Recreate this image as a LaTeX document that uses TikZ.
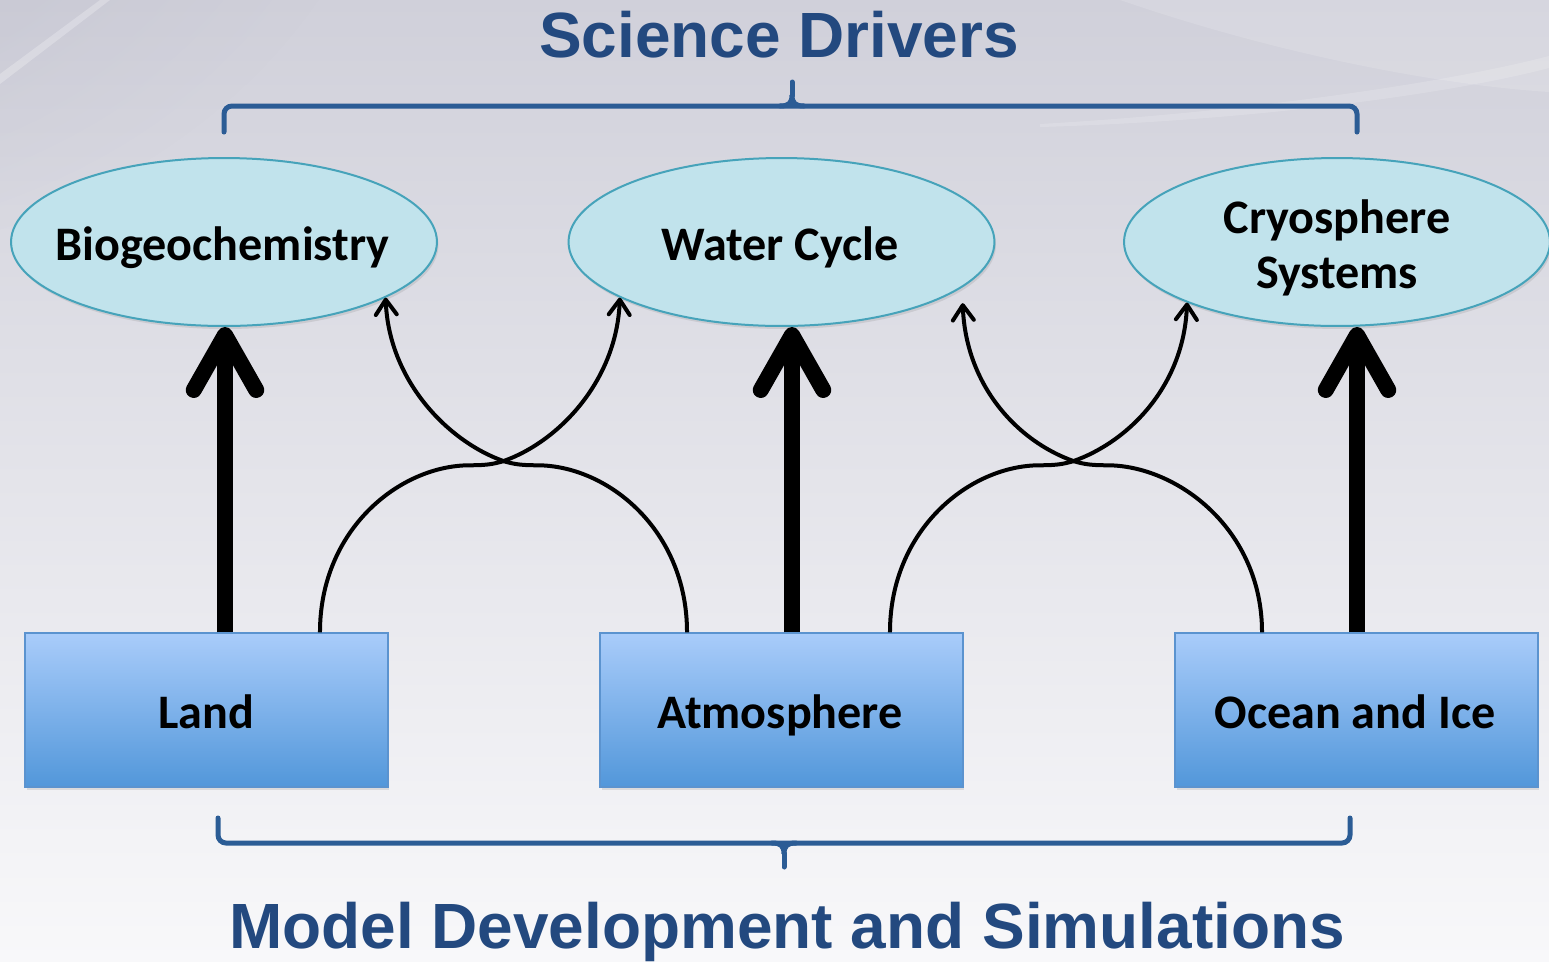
\documentclass[tikz,border=0pt]{standalone}
\usepackage{fontspec}
\setmainfont{Carlito}
\newfontfamily\titlefont{Liberation Sans}
\usetikzlibrary{arrows.meta,shapes.geometric,shadows,fadings}

\definecolor{titleblue}{HTML}{23497F}
\definecolor{bracecol}{HTML}{2B5C95}
\definecolor{ellfill}{HTML}{C1E3EC}
\definecolor{elldraw}{HTML}{46A3BA}
\definecolor{boxtop}{HTML}{A9CCFA}
\definecolor{boxbot}{HTML}{5297DA}
\definecolor{boxdraw}{HTML}{5B93CF}
\definecolor{bgtop}{HTML}{D0D0DA}
\definecolor{bgmid}{HTML}{E9E9EE}
\definecolor{bgbot}{HTML}{F8F8FA}
\definecolor{bgdark}{HTML}{B4B5C4}

\tikzfading[name=softspot, inner color=transparent!0, outer color=transparent!100]

\tikzset{
  driver/.style={ellipse, draw=elldraw, line width=0.04cm, fill=ellfill,
    minimum width=8.52cm, minimum height=3.36cm, inner sep=0pt,
    drop shadow={shadow xshift=0.03cm, shadow yshift=-0.06cm, opacity=0.2}},
  component/.style={rectangle, draw=boxdraw, line width=0.03cm,
    top color=boxtop, bottom color=boxbot,
    minimum width=7.26cm, minimum height=3.08cm, inner sep=0pt,
    drop shadow={shadow xshift=0.03cm, shadow yshift=-0.06cm, opacity=0.2}},
  nodetext/.style={font=\bfseries\fontsize{27.4}{31}\selectfont, inner sep=0pt, align=center},
  headline/.style={font=\titlefont\bfseries\fontsize{36.4}{43}\selectfont, text=titleblue, inner sep=0pt},
  coupling/.style={line width=0.08cm, -{Straight Barb[length=0.3cm,width=0.42cm,round]}},
  mainflow/.style={line width=0.32cm, -{Straight Barb[length=1.1cm,width=1.25cm,round]}},
  bracket/.style={draw=bracecol, line width=0.1cm, rounded corners=0.16cm, line cap=round}
}

\begin{document}
\begin{tikzpicture}[x=0.02cm,y=-0.02cm]
  % backdrop
  \useasboundingbox (0,0) rectangle (1549,961);
  \shade[top color=bgtop, middle color=bgmid, bottom color=bgbot] (0,0) rectangle (1549,961);
  \fill[bgdark, opacity=0.55, path fading=softspot] (-250,-250) ellipse (650 and 520);
  \fill[white, opacity=0.25] (0,74) -- (100,0) -- (110,0) -- (0,84) -- cycle;
  \fill[white, opacity=0.14] (1120,0) .. controls (1280,55) and (1440,85) .. (1549,92) -- (1549,0) -- cycle;
  \fill[white, opacity=0.16] (1040,124) .. controls (1250,112) and (1450,82) .. (1549,56)
        -- (1549,68) .. controls (1450,94) and (1250,121) .. (1040,127) -- cycle;

  % brackets
  \draw[bracket] (224,132) -- (224,106) -- (1357,106) -- (1357,132);
  \draw[bracket, rounded corners=0pt] (780,106) .. controls (789,106) and (792,103) .. (792,95)
        .. controls (792,103) and (795,106) .. (804,106);
  \draw[bracket, rounded corners=0pt] (792,96) -- (792,82);
  \draw[bracket] (218,818) -- (218,843) -- (1350,843) -- (1350,818);
  \draw[bracket, rounded corners=0pt] (772,843) .. controls (781,843) and (784,846) .. (784,854)
        .. controls (784,846) and (787,843) .. (796,843);
  \draw[bracket, rounded corners=0pt] (784,853) -- (784,867);

  % titles
  \node[headline, anchor=base] (drivers) at (779,57) {Science Drivers};
  \node[headline, anchor=base] (modeldev) at (787,948) {Model Development and Simulations};

  % science drivers
  \node[driver] (bio) at (224,242) {};
  \node[driver] (water) at (781.5,242) {};
  \node[driver] (cryo) at (1337,242) {};
  \node[nodetext, anchor=base] (biotext) at (222.5,260) {Biogeochemistry};
  \node[nodetext, anchor=base] (watertext) at (780,260) {Water Cycle};
  \node[nodetext, anchor=base] (cryotext) at (1337,288) {Cryosphere\\Systems};

  % model components
  \node[component] (land) at (206.5,710) {};
  \node[component] (atm) at (781.5,710) {};
  \node[component] (ocean) at (1356.5,710) {};
  \node[nodetext, anchor=base] (landtext) at (206.5,728) {Land};
  \node[nodetext, anchor=base] (atmtext) at (780,728) {Atmosphere};
  \node[nodetext, anchor=base] (oceantext) at (1355,728) {Ocean and Ice};

  % direct links
  \coordinate (landUp) at ([xshift=0.37cm]land.north);
  \coordinate (atmUp) at ([xshift=0.21cm]atm.north);
  \coordinate (oceanUp) at ([xshift=0.01cm]ocean.north);
  \draw[mainflow] (landUp) -- (landUp |- bio.south);
  \draw[mainflow] (atmUp) -- (atmUp |- water.south);
  \draw[mainflow] (oceanUp) -- (oceanUp |- cryo.south);

  % crossing couplings
  \draw[coupling] ([xshift=2.27cm]land.north)
     .. controls +(0,-103) and +(-70,0) .. ++(150,-167)
     .. controls +(18,0) and +(-9,2.5) .. ++(33,-4)
     .. controls +(57,-20) and +(-3,82) .. (water.199);
  \draw[coupling] ([xshift=-1.89cm]atm.north)
     .. controls +(0,-103) and +(70,0) .. ++(-150,-167)
     .. controls +(-18,0) and +(9,2.5) .. ++(-33,-4)
     .. controls +(-57,-20) and +(3,82) .. (bio.-19);
  \draw[coupling] ([xshift=2.17cm]atm.north)
     .. controls +(0,-103) and +(-70,0) .. ++(150,-167)
     .. controls +(18,0) and +(-9,2.5) .. ++(33,-4)
     .. controls +(57,-20) and +(-3,82) .. (cryo.202);
  \draw[coupling] ([xshift=-1.89cm]ocean.north)
     .. controls +(0,-103) and +(70,0) .. ++(-155,-167)
     .. controls +(-18,0) and +(9,2.5) .. ++(-33,-4)
     .. controls +(-57,-20) and +(3,82) .. ([yshift=-0.32cm]water.-14);
\end{tikzpicture}
\end{document}
